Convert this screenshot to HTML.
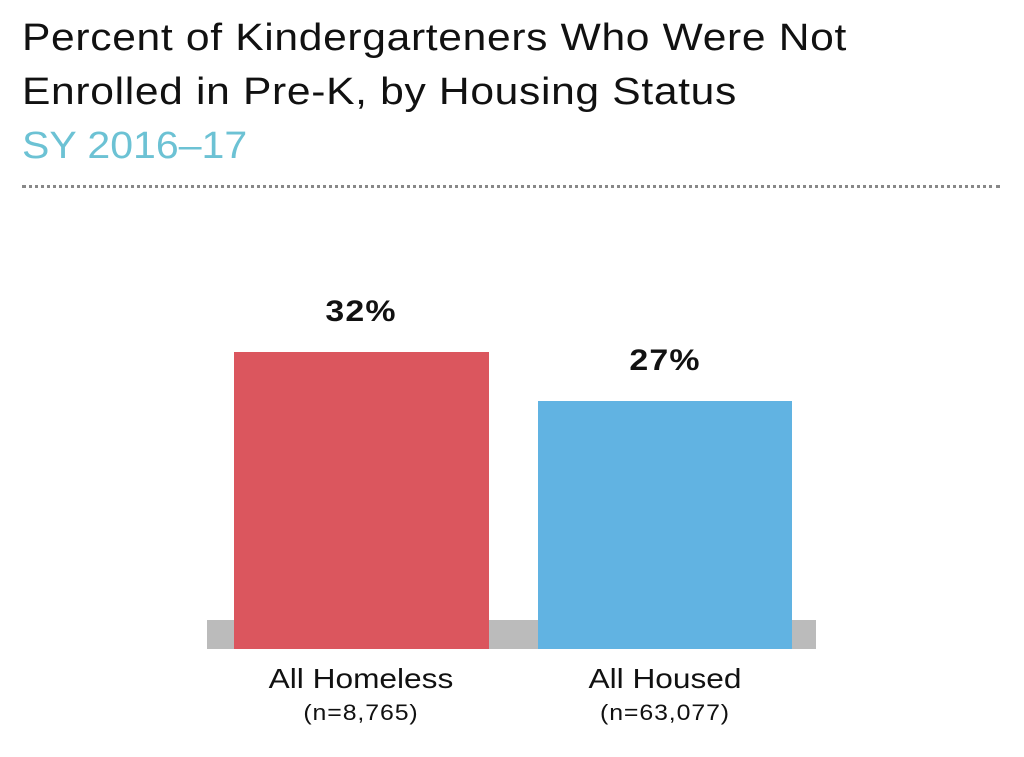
<!DOCTYPE html>
<html><head><style>
html,body{margin:0;padding:0;background:#fff;}
body{width:1024px;height:757px;position:relative;overflow:hidden;font-family:"Liberation Sans",sans-serif;}
.t{position:absolute;left:22px;font-size:38px;line-height:1;white-space:nowrap;color:#111;letter-spacing:0.6px;transform:scaleX(1.12);transform-origin:0 0;}
.dots{position:absolute;left:22px;top:185px;width:978px;height:0;border-top:3px dotted #888;}
.r{position:absolute;}
.c{position:absolute;text-align:center;white-space:nowrap;line-height:1;color:#111;transform:scaleX(1.13);transform-origin:50% 0;}
</style></head><body>
<div class="t" style="top:19px">Percent of Kindergarteners Who Were Not</div>
<div class="t" style="top:73px">Enrolled in Pre-K, by Housing Status</div>
<div class="t" style="top:127px;color:#6cc2d4;letter-spacing:0;transform:scaleX(1.08)">SY 2016–17</div>
<div class="dots"></div>
<div class="r" style="left:207px;top:620px;width:609px;height:29px;background:#bbbbbb"></div>
<div class="r" style="left:234px;top:352px;width:255px;height:297px;background:#db565e"></div>
<div class="r" style="left:538px;top:401px;width:254px;height:248px;background:#61b3e2"></div>
<div class="c" style="left:261px;width:200px;top:297px;font-size:30px;font-weight:bold;letter-spacing:1px">32%</div>
<div class="c" style="left:565px;width:200px;top:346px;font-size:30px;font-weight:bold;letter-spacing:1px">27%</div>
<div class="c" style="left:211px;width:300px;top:665px;font-size:28px">All Homeless</div>
<div class="c" style="left:211px;width:300px;top:702px;font-size:22px;letter-spacing:0.8px">(n=8,765)</div>
<div class="c" style="left:515px;width:300px;top:665px;font-size:28px">All Housed</div>
<div class="c" style="left:515px;width:300px;top:702px;font-size:22px;letter-spacing:0.8px">(n=63,077)</div>
</body></html>
